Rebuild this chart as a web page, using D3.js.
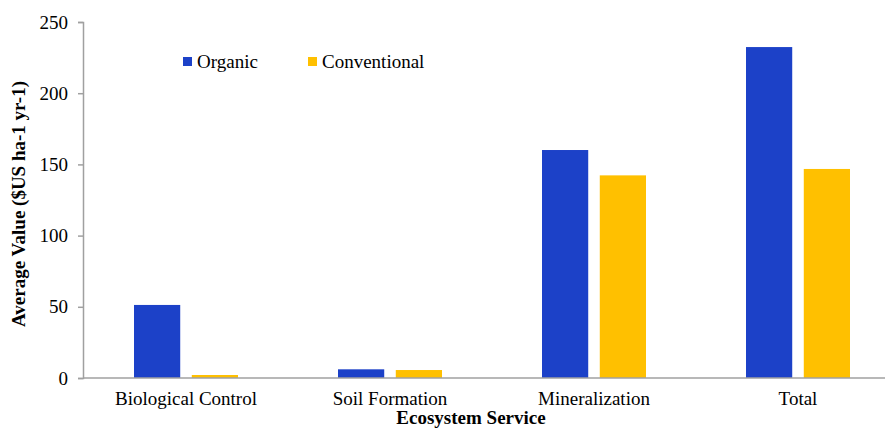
<!DOCTYPE html>
<html>
<head>
<meta charset="utf-8">
<script src="https://cdn.jsdelivr.net/npm/d3@7"></script>
<style>
  body { margin: 0; background: #fff; }
</style>
</head>
<body>
<div class="canvas"></div>
<script>
const categories = ['Biological Control', 'Soil Formation', 'Mineralization', 'Total'];
const seriesNames = ['Organic', 'Conventional'];
const organic = [51.3, 6.1, 160.1, 232.4];
const conventional = [2.1, 5.6, 142.3, 146.8];
const yTicks = [0, 50, 100, 150, 200, 250];
const colors = ['#1c41c8', '#ffc000'];

const font = "'Liberation Serif'";
const fontSize = '19px';

const svgWidth = 885;
const svgHeight = 430;
const margins = { top: 22, bottom: 52, left: 83, right: 0 };
const graphHeight = svgHeight - margins.top - margins.bottom;

const svg = d3.select('.canvas')
    .append('svg')
        .attr('width', svgWidth)
        .attr('height', svgHeight);

const graphGroup = svg.append('g')
    .attr('transform', `translate(${margins.left},${margins.top})`);

const x = d3.scaleBand().domain(categories).range([1, 817]);
const xInner = d3.scaleBand().domain(seriesNames).range([-52, 52]).paddingInner(0.2);
const y = d3.scaleLinear().domain([0, 250]).range([graphHeight, 0]);

const data = categories.map((c, i) => ({ cat: c, values: [organic[i], conventional[i]] }));

// bars
const groups = graphGroup.selectAll('g.group')
    .data(data)
    .enter()
    .append('g')
        .attr('class', 'group')
        .attr('transform', d => `translate(${x(d.cat) + x.bandwidth() / 2},0)`);

groups.selectAll('rect')
    .data(d => d.values.map((v, i) => ({ name: seriesNames[i], v, i })))
    .enter()
    .append('rect')
        .attr('x', d => xInner(d.name))
        .attr('width', xInner.bandwidth())
        .attr('y', d => y(d.v))
        .attr('height', d => graphHeight - y(d.v))
        .attr('fill', d => colors[d.i]);

// y axis
const yAxis = d3.axisLeft(y).tickValues(yTicks).tickSize(5).tickPadding(10);
const yAxisGroup = graphGroup.append('g').call(yAxis);
yAxisGroup.select('.domain').attr('stroke', '#a0a0a0').attr('stroke-width', 1.5);
yAxisGroup.selectAll('.tick line').attr('stroke', '#a0a0a0').attr('stroke-width', 1.5);
yAxisGroup.selectAll('text')
    .style('font-family', font)
    .style('font-size', fontSize)
    .attr('fill', '#000');

// x axis
const xAxis = d3.axisBottom(x).tickSize(0).tickPadding(13.5);
const xAxisGroup = graphGroup.append('g')
    .attr('transform', `translate(0,${graphHeight})`)
    .call(xAxis);
xAxisGroup.select('.domain').remove();
xAxisGroup.append('line')
    .attr('x1', 0).attr('x2', svgWidth - margins.left)
    .attr('stroke', '#a0a0a0').attr('stroke-width', 1.5);
xAxisGroup.selectAll('text')
    .style('font-family', font)
    .style('font-size', fontSize)
    .attr('fill', '#000');

// axis titles
svg.append('text')
    .attr('transform', 'translate(25,204) rotate(-90)')
    .attr('text-anchor', 'middle')
    .style('font-family', font)
    .style('font-size', fontSize)
    .style('font-weight', 'bold')
    .text('Average Value ($US ha-1 yr-1)');

svg.append('text')
    .attr('x', 471)
    .attr('y', 424)
    .attr('text-anchor', 'middle')
    .style('font-family', font)
    .style('font-size', fontSize)
    .style('font-weight', 'bold')
    .text('Ecosystem Service');

// legend
const legend = svg.append('g').attr('transform', 'translate(183,57)');
const legendItems = legend.selectAll('g')
    .data(seriesNames)
    .enter()
    .append('g')
        .attr('transform', (d, i) => `translate(${i * 125},0)`);
legendItems.append('rect')
    .attr('width', 9).attr('height', 9)
    .attr('fill', (d, i) => colors[i]);
legendItems.append('text')
    .attr('x', 14).attr('y', 11)
    .style('font-family', font)
    .style('font-size', fontSize)
    .text(d => d);
</script>
</body>
</html>
